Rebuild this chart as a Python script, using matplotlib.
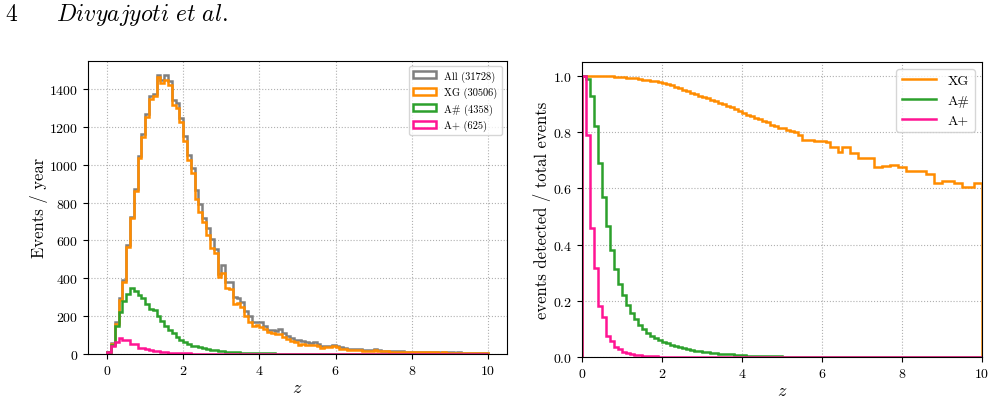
import numpy as np
import matplotlib
matplotlib.use("Agg")
import matplotlib.pyplot as plt

plt.rcParams['font.family'] = ['cmr10', 'DejaVu Serif']
plt.rcParams['mathtext.fontset'] = 'cm'
plt.rcParams['axes.formatter.use_mathtext'] = True

# redshift bins (width 0.1)
z_edges = np.linspace(0, 10, 101)
z_mid = 0.5 * (z_edges[:-1] + z_edges[1:])

# events / year per bin (left panel)
all_counts = [13, 60, 168, 294, 391, 575, 726, 873, 1047, 1160,
              1268, 1360, 1375, 1472, 1447, 1474, 1440, 1339, 1328, 1246,
              1153, 1053, 982, 868, 790, 719, 667, 607, 556, 420,
              470, 381, 381, 303, 293, 276, 228, 198, 170, 170,
              170, 147, 129, 129, 119, 130, 112, 96, 82, 74,
              76, 67, 64, 60, 62, 54, 42, 44, 44, 48,
              43, 36, 32, 26, 25, 28, 24, 23, 21, 21,
              24, 21, 18, 17, 16, 16, 15, 15, 13, 13,
              12, 11, 11, 10, 11, 10, 10, 8, 10, 8,
              8, 7, 8, 7, 7, 7, 6, 7, 6, 6]
xg_counts = [10, 55, 160, 286, 381, 563, 716, 861, 1035, 1146,
             1254, 1345, 1360, 1461, 1433, 1447, 1421, 1316, 1298, 1223,
             1123, 1026, 956, 819, 749, 698, 626, 559, 535, 404,
             426, 351, 342, 263, 268, 246, 202, 167, 149, 153,
             140, 132, 117, 111, 105, 105, 92, 80, 68, 62,
             50, 55, 50, 48, 46, 44, 30, 36, 36, 42,
             36, 28, 25, 20, 20, 22, 19, 18, 17, 17,
             20, 17, 15, 14, 13, 13, 12, 12, 11, 11,
             10, 9, 9, 8, 9, 8, 8, 7, 8, 7,
             7, 6, 7, 6, 6, 6, 5, 6, 5, 5]
ash_counts = [12, 50, 149, 223, 281, 316, 349, 333, 312, 293,
              263, 237, 233, 202, 175, 149, 128, 110, 88, 75,
              65, 53, 44, 40, 35, 30, 26, 22, 19, 16,
              14, 12, 10, 9, 8, 7, 6, 5, 5, 4,
              4, 3, 3, 3, 2, 2, 2, 2, 2, 1,
              1, 1, 1, 1, 0, 1, 0, 0, 0, 0,
              0, 0, 0, 0, 0, 0, 0, 0, 0, 0,
              0, 0, 0, 0, 0, 0, 0, 0, 0, 0,
              0, 0, 0, 0, 0, 0, 0, 0, 0, 0,
              0, 0, 0, 0, 0, 0, 0, 0, 0, 0]
aplus_counts = [8, 44, 65, 82, 75, 75, 53, 53, 33, 33,
                26, 21, 16, 16, 9, 8, 7, 6, 5, 4,
                3, 3, 2, 2, 1, 1, 1, 1, 0, 0,
                0, 0, 0, 0, 0, 0, 0, 0, 0, 0,
                0, 0, 0, 0, 0, 0, 0, 0, 0, 0,
                0, 0, 0, 0, 0, 0, 0, 0, 0, 0,
                0, 0, 0, 0, 0, 0, 0, 0, 0, 0,
                0, 0, 0, 0, 0, 0, 0, 0, 0, 0,
                0, 0, 0, 0, 0, 0, 0, 0, 0, 0,
                0, 0, 0, 0, 0, 0, 0, 0, 0, 0]

# detected fraction per bin (right panel)
xg_frac = [1.000, 1.000, 1.000, 1.000, 1.000, 1.000, 0.999, 0.999, 0.998, 0.997,
           0.996, 0.995, 0.993, 0.992, 0.990, 0.988, 0.986, 0.983, 0.981, 0.978,
           0.975, 0.971, 0.967, 0.962, 0.957, 0.952, 0.946, 0.941, 0.935, 0.930,
           0.926, 0.921, 0.916, 0.910, 0.905, 0.900, 0.895, 0.889, 0.884, 0.877,
           0.868, 0.863, 0.857, 0.851, 0.846, 0.840, 0.838, 0.827, 0.824, 0.817,
           0.816, 0.809, 0.806, 0.800, 0.789, 0.772, 0.771, 0.771, 0.770, 0.770,
           0.768, 0.767, 0.746, 0.746, 0.731, 0.748, 0.748, 0.725, 0.725, 0.709,
           0.709, 0.709, 0.709, 0.676, 0.676, 0.680, 0.680, 0.684, 0.684, 0.677,
           0.677, 0.663, 0.663, 0.663, 0.663, 0.663, 0.651, 0.651, 0.621, 0.621,
           0.627, 0.627, 0.627, 0.618, 0.618, 0.606, 0.606, 0.606, 0.618, 0.618]
ash_frac = [1.000, 0.990, 0.931, 0.824, 0.692, 0.570, 0.465, 0.380, 0.314, 0.261,
            0.219, 0.186, 0.157, 0.136, 0.115, 0.098, 0.084, 0.075, 0.067, 0.060,
            0.054, 0.049, 0.044, 0.040, 0.036, 0.032, 0.029, 0.026, 0.023, 0.021,
            0.019, 0.017, 0.015, 0.013, 0.012, 0.011, 0.010, 0.009, 0.008, 0.007,
            0.006, 0.005, 0.005, 0.004, 0.004, 0.003, 0.003, 0.002, 0.002, 0.002,
            0.0015, 0.0015, 0.001, 0.001, 0.001, 0.001, 0.001, 0.0005, 0.0005, 0.0005,
            0, 0, 0, 0, 0, 0, 0, 0, 0, 0,
            0, 0, 0, 0, 0, 0, 0, 0, 0, 0,
            0, 0, 0, 0, 0, 0, 0, 0, 0, 0,
            0, 0, 0, 0, 0, 0, 0, 0, 0, 0]
aplus_frac = [1.000, 0.790, 0.461, 0.318, 0.181, 0.144, 0.076, 0.058, 0.037, 0.029,
              0.019, 0.013, 0.010, 0.008, 0.006, 0.005, 0.004, 0.003, 0.002, 0.001,
              0, 0, 0, 0, 0, 0, 0, 0, 0, 0,
              0, 0, 0, 0, 0, 0, 0, 0, 0, 0,
              0, 0, 0, 0, 0, 0, 0, 0, 0, 0,
              0, 0, 0, 0, 0, 0, 0, 0, 0, 0,
              0, 0, 0, 0, 0, 0, 0, 0, 0, 0,
              0, 0, 0, 0, 0, 0, 0, 0, 0, 0,
              0, 0, 0, 0, 0, 0, 0, 0, 0, 0,
              0, 0, 0, 0, 0, 0, 0, 0, 0, 0]

labels = ['All (31728)', 'XG (30506)', 'A# (4358)', 'A+ (625)']
colors = ['grey', 'darkorange', '#2ca02c', 'deeppink']

fig = plt.figure(figsize=(9.96, 4.02), dpi=100)
ax1 = fig.add_axes([0.0884, 0.117, 0.4206, 0.729])
ax2 = fig.add_axes([0.5843, 0.1095, 0.4016, 0.7335])

# running header
fig.text(0.005, 0.948, '4', fontsize=17, va='baseline')
fig.text(0.056, 0.948, r'$\mathit{Divyajyoti\ et\ al.}$', fontsize=17, va='baseline')

# left: histograms
for counts, lab, col in zip([all_counts, xg_counts, ash_counts, aplus_counts], labels, colors):
    ax1.hist(z_mid, bins=z_edges, weights=counts, histtype='step', color=col, lw=1.8, label=lab)
ax1.set_xlim(-0.5, 10.5)
ax1.set_ylim(0, 1548)
ax1.set_yticks(np.arange(0, 1401, 200))
ax1.set_xticks(np.arange(0, 11, 2))
ax1.grid(True, linestyle=':', color='#b0b0b0', lw=0.8)
ax1.set_axisbelow(True)
ax1.set_xlabel(r'$z$', fontsize=13, labelpad=2)
ax1.set_ylabel('Events / year', fontsize=12, labelpad=1)
ax1.tick_params(labelsize=10)
ax1.legend(loc='upper right', fontsize=7.5, handlelength=2.2)

# right: detected fraction
for frac, lab, col in zip([xg_frac, ash_frac, aplus_frac], ['XG', 'A#', 'A+'], colors[1:]):
    ax2.stairs(frac, z_edges, color=col, lw=1.8, label=lab, baseline=0)
ax2.set_xlim(0, 10)
ax2.set_ylim(0, 1.05)
ax2.set_xticks(np.arange(0, 11, 2))
ax2.set_yticks(np.arange(0, 1.01, 0.2))
ax2.grid(True, linestyle=':', color='#b0b0b0', lw=0.8)
ax2.set_axisbelow(True)
ax2.set_xlabel(r'$z$', fontsize=13, labelpad=2)
ax2.set_ylabel('events detected / total events', fontsize=12, labelpad=1)
ax2.tick_params(labelsize=10)
ax2.legend(loc='upper right', fontsize=10, handlelength=2.5)

fig.savefig('out.png', dpi=100)
